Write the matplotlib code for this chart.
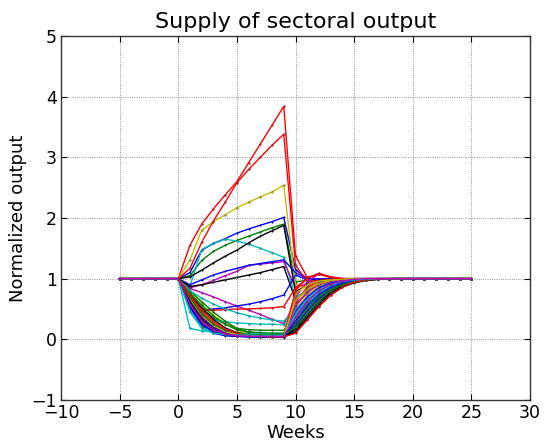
import matplotlib
matplotlib.use("Agg")
import matplotlib.pyplot as plt

weeks = list(range(-5, 26))

# ---- series (values at weeks -5 ... 25) ----
s00 = [1,1,1,1,1, 1.00,1.10,1.47,1.58,1.66,1.75,1.82,1.88,1.94,2.01, 1.15,1.00,0.98,0.99,1.00,1.00,1.00,1.00,1.00, 1,1,1,1,1,1,1]
s01 = [1,1,1,1,1, 1.00,1.05,1.30,1.45,1.55,1.63,1.70,1.77,1.84,1.90, 0.95,0.97,0.98,0.99,1.00,1.00,1.00,1.00,1.00, 1,1,1,1,1,1,1]
s02 = [1,1,1,1,1, 1.00,1.55,1.90,2.15,2.38,2.60,2.91,3.22,3.53,3.84, 1.38,1.02,1.07,1.02,1.00,1.00,1.00,1.00,1.00, 1,1,1,1,1,1,1]
s03 = [1,1,1,1,1, 1.00,0.88,1.48,1.58,1.65,1.62,1.57,1.50,1.43,1.35, 0.70,0.80,0.90,0.95,0.98,0.99,1.00,1.00,1.00, 1,1,1,1,1,1,1]
s04 = [1,1,1,1,1, 1.00,0.85,0.90,0.97,1.05,1.12,1.22,1.24,1.26,1.28, 0.85,0.92,0.96,0.98,0.99,1.00,1.00,1.00,1.00, 1,1,1,1,1,1,1]
s05 = [1,1,1,1,1, 1.00,1.31,1.80,1.94,2.05,2.17,2.26,2.35,2.43,2.54, 0.90,0.85,0.92,0.96,0.98,0.99,1.00,1.00,1.00, 1,1,1,1,1,1,1]
s06 = [1,1,1,1,1, 1.00,1.03,1.14,1.26,1.37,1.47,1.59,1.70,1.79,1.88, 0.78,0.90,0.95,0.98,0.99,1.00,1.00,1.00,1.00, 1,1,1,1,1,1,1]
s07 = [1,1,1,1,1, 1.00,0.90,0.98,1.06,1.12,1.17,1.22,1.25,1.28,1.31, 1.10,1.00,0.99,1.00,1.00,1.00,1.00,1.00,1.00, 1,1,1,1,1,1,1]
s08 = [1,1,1,1,1, 1.00,0.70,0.50,0.35,0.25,0.18,0.16,0.15,0.15,0.15, 0.40,0.62,0.78,0.88,0.94,0.97,0.99,1.00,1.00, 1,1,1,1,1,1,1]
s09 = [1,1,1,1,1, 1.00,1.17,1.60,1.95,2.26,2.58,2.80,3.00,3.20,3.38, 1.22,0.95,0.98,1.00,1.00,1.00,1.00,1.00,1.00, 1,1,1,1,1,1,1]
s10 = [1,1,1,1,1, 1.00,0.18,0.14,0.12,0.12,0.11,0.11,0.10,0.10,0.10, 0.30,0.52,0.70,0.83,0.91,0.96,0.98,0.99,1.00, 1,1,1,1,1,1,1]
s11 = [1,1,1,1,1, 1.00,0.84,0.77,0.70,0.62,0.55,0.48,0.41,0.33,0.26, 0.60,0.75,0.86,0.93,0.97,0.99,1.00,1.00,1.00, 1,1,1,1,1,1,1]
s12 = [1,1,1,1,1, 1.00,0.78,0.58,0.40,0.26,0.15,0.09,0.07,0.06,0.06, 0.55,0.80,0.92,0.97,0.99,1.00,1.00,1.00,1.00, 1,1,1,1,1,1,1]
s13 = [1,1,1,1,1, 1.00,0.87,0.90,0.94,0.98,1.02,1.06,1.10,1.15,1.20, 0.65,0.82,0.92,0.96,0.98,0.99,1.00,1.00,1.00, 1,1,1,1,1,1,1]
s14 = [1,1,1,1,1, 1.00,0.72,0.48,0.50,0.52,0.55,0.58,0.62,0.67,0.73, 1.06,0.98,1.00,1.00,1.00,1.00,1.00,1.00,1.00, 1,1,1,1,1,1,1]
s15 = [1,1,1,1,1, 1.00,0.62,0.32,0.16,0.09,0.07,0.06,0.06,0.06,0.06, 0.25,0.48,0.68,0.82,0.91,0.96,0.98,0.99,1.00, 1,1,1,1,1,1,1]
s16 = [1,1,1,1,1, 1.00,0.55,0.48,0.48,0.49,0.50,0.50,0.51,0.52,0.54, 0.85,1.00,1.09,1.02,1.00,1.00,1.00,1.00,1.00, 1,1,1,1,1,1,1]
s17 = [1,1,1,1,1, 1.00,0.70,0.45,0.32,0.29,0.27,0.26,0.25,0.25,0.24, 0.45,0.62,0.77,0.87,0.93,0.97,0.99,1.00,1.00, 1,1,1,1,1,1,1]
s18 = [1,1,1,1,1, 1.00,0.68,0.40,0.22,0.12,0.08,0.06,0.05,0.05,0.05, 0.70,0.95,1.08,1.03,1.00,1.00,1.00,1.00,1.00, 1,1,1,1,1,1,1]
s19 = [1,1,1,1,1, 1.00,0.58,0.28,0.14,0.08,0.06,0.05,0.05,0.05,0.05, 0.50,0.74,0.87,0.94,0.97,0.99,1.00,1.00,1.00, 1,1,1,1,1,1,1]
s20 = [1,1,1,1,1, 1.00,0.74,0.52,0.33,0.19,0.11,0.07,0.06,0.05,0.05, 0.18,0.40,0.62,0.78,0.89,0.95,0.98,0.99,1.00, 1,1,1,1,1,1,1]
s21 = [1,1,1,1,1, 1.00,0.52,0.22,0.10,0.06,0.05,0.04,0.04,0.04,0.04, 0.22,0.46,0.67,0.81,0.90,0.95,0.98,0.99,1.00, 1,1,1,1,1,1,1]
s22 = [1,1,1,1,1, 1.00,0.80,0.62,0.45,0.30,0.18,0.12,0.10,0.09,0.09, 0.35,0.58,0.75,0.86,0.93,0.97,0.99,1.00,1.00, 1,1,1,1,1,1,1]
s23 = [1,1,1,1,1, 1.00,0.66,0.38,0.20,0.11,0.07,0.06,0.05,0.05,0.05, 0.62,0.86,0.96,0.99,1.00,1.00,1.00,1.00,1.00, 1,1,1,1,1,1,1]
s24 = [1,1,1,1,1, 1.00,0.80,0.68,0.58,0.50,0.44,0.39,0.35,0.32,0.30, 0.50,0.68,0.81,0.90,0.95,0.98,0.99,1.00,1.00, 1,1,1,1,1,1,1]
s25 = [1,1,1,1,1, 1.00,0.60,0.30,0.15,0.09,0.07,0.06,0.06,0.06,0.06, 0.40,0.65,0.82,0.92,0.97,0.99,1.00,1.00,1.00, 1,1,1,1,1,1,1]
s26 = [1,1,1,1,1, 1.00,0.72,0.46,0.28,0.16,0.10,0.08,0.07,0.07,0.07, 0.75,0.90,0.96,0.98,0.99,1.00,1.00,1.00,1.00, 1,1,1,1,1,1,1]
s27 = [1,1,1,1,1, 1.00,0.56,0.25,0.12,0.07,0.05,0.05,0.04,0.04,0.04, 0.15,0.36,0.58,0.76,0.88,0.94,0.98,0.99,1.00, 1,1,1,1,1,1,1]
s28 = [1,1,1,1,1, 1.00,0.64,0.36,0.19,0.11,0.07,0.06,0.05,0.05,0.05, 0.45,0.70,0.85,0.93,0.97,0.99,1.00,1.00,1.00, 1,1,1,1,1,1,1]
s29 = [1,1,1,1,1, 1.00,0.76,0.56,0.38,0.25,0.16,0.12,0.11,0.10,0.10, 0.28,0.52,0.71,0.84,0.92,0.96,0.98,0.99,1.00, 1,1,1,1,1,1,1]
s30 = [1,1,1,1,1, 1.00,0.70,0.44,0.26,0.15,0.09,0.07,0.06,0.06,0.06, 0.80,1.02,1.08,1.03,1.00,1.00,1.00,1.00,1.00, 1,1,1,1,1,1,1]
s31 = [1,1,1,1,1, 1.00,0.48,0.20,0.12,0.10,0.09,0.09,0.09,0.08,0.08, 0.38,0.60,0.76,0.87,0.94,0.97,0.99,1.00,1.00, 1,1,1,1,1,1,1]
s32 = [1,1,1,1,1, 1.00,0.62,0.34,0.17,0.10,0.07,0.06,0.05,0.05,0.05, 0.55,0.78,0.90,0.96,0.98,0.99,1.00,1.00,1.00, 1,1,1,1,1,1,1]
s33 = [1,1,1,1,1, 1.00,0.66,0.40,0.23,0.13,0.08,0.06,0.05,0.05,0.05, 0.65,0.82,0.92,0.97,0.99,1.00,1.00,1.00,1.00, 1,1,1,1,1,1,1]
s34 = [1,1,1,1,1, 1.00,0.62,0.33,0.16,0.09,0.06,0.05,0.04,0.04,0.04, 0.12,0.33,0.55,0.73,0.86,0.93,0.97,0.99,1.00, 1,1,1,1,1,1,1]
s35 = [1,1,1,1,1, 1.00,0.55,0.26,0.12,0.07,0.05,0.04,0.04,0.04,0.03, 0.30,0.55,0.74,0.86,0.93,0.97,0.99,1.00,1.00, 1,1,1,1,1,1,1]
s36 = [1,1,1,1,1, 1.00,0.68,0.42,0.25,0.15,0.10,0.08,0.07,0.07,0.07, 0.20,0.42,0.64,0.80,0.90,0.95,0.98,0.99,1.00, 1,1,1,1,1,1,1]
s37 = [1,1,1,1,1, 1.00,0.72,0.48,0.30,0.17,0.10,0.06,0.05,0.04,0.04, 0.10,0.32,0.54,0.73,0.86,0.94,0.98,0.99,1.00, 1,1,1,1,1,1,1]
s38 = [1,1,1,1,1, 1.00,0.45,0.18,0.10,0.08,0.07,0.07,0.06,0.06,0.06, 0.42,0.66,0.82,0.91,0.96,0.98,0.99,1.00,1.00, 1,1,1,1,1,1,1]
s39 = [1,1,1,1,1, 1.00,0.58,0.30,0.15,0.09,0.06,0.05,0.05,0.05,0.05, 0.36,0.62,0.80,0.91,0.96,0.99,1.00,1.00,1.00, 1,1,1,1,1,1,1]

sectors = [s00, s01, s02, s03, s04, s05, s06, s07, s08, s09,
           s10, s11, s12, s13, s14, s15, s16, s17, s18, s19,
           s20, s21, s22, s23, s24, s25, s26, s27, s28, s29,
           s30, s31, s32, s33, s34, s35, s36, s37, s38, s39]

x_ticks = [-10, -5, 0, 5, 10, 15, 20, 25, 30]
y_ticks = [-1, 0, 1, 2, 3, 4, 5]

# classic matplotlib colour cycle
cycle = [(0, 0, 1), (0, 0.5, 0), (1, 0, 0), (0, 0.75, 0.75),
         (0.75, 0, 0.75), (0.75, 0.75, 0), (0, 0, 0)]

plt.rcParams['font.family'] = ['DejaVu Sans']
fig = plt.figure(figsize=(5.44, 4.46), dpi=100)
ax = fig.add_axes([61/544, 1-400/446, (530-61)/544, (400-36)/446])

for i, s in enumerate(sectors):
    ax.plot(weeks, s, color=cycle[i % 7], lw=1.0, marker='.', ms=2.5,
            mec=(0.3, 0.3, 0.3), mew=0.3, zorder=3)

ax.set_xlim(-10, 30)
ax.set_ylim(-1, 5)
ax.set_xticks(x_ticks)
ax.set_yticks(y_ticks)
ax.grid(True, linestyle=':', color='k', lw=0.6, alpha=0.55)
ax.tick_params(direction='in', length=4, top=True, right=True, labelsize=12.5, pad=3)
for sp in ax.spines.values():
    sp.set_color((0.2, 0.2, 0.2))
    sp.set_linewidth(1.0)
ax.set_xlabel('Weeks', fontsize=13, labelpad=1)
ax.set_ylabel('Normalized output', fontsize=13, labelpad=3)
ax.set_title('Supply of sectoral output', fontsize=16, pad=6)

fig.savefig('out.png', dpi=100)
